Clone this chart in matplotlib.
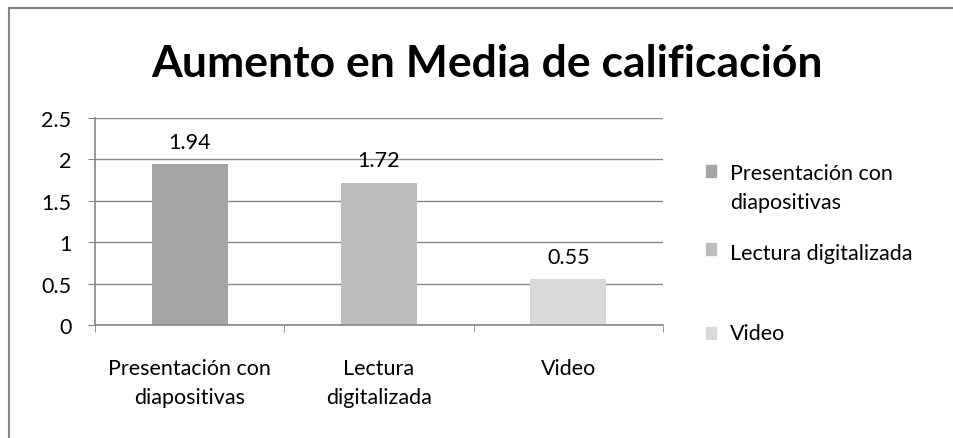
import matplotlib.pyplot as plt
from matplotlib.patches import Rectangle
import numpy as np

plt.rcParams['font.family'] = ['Lato', 'DejaVu Sans']

categories = ['Presentación con\ndiapositivas', 'Lectura\ndigitalizada', 'Video']
legend_labels = ['Presentación con\ndiapositivas', 'Lectura digitalizada', 'Video']
values = [1.94, 1.72, 0.55]
colors = ['#a5a5a5', '#bdbdbd', '#d9d9d9']
grid_color = '#868686'
fs = 15.5

fig = plt.figure(figsize=(9.54, 4.39), dpi=100)
ax = fig.add_axes([0.0996, 0.2574, 0.5954, 0.4715])

x = np.arange(len(values))
ax.bar(x, values, width=0.4, color=colors, zorder=3)
for xi, v in zip(x, values):
    ax.annotate(f'{v:.2f}', (xi, v), xytext=(0, 16), textcoords='offset points',
                ha='center', va='center', fontsize=fs)

ax.set_xlim(-0.5, 2.5)
ax.set_ylim(0, 2.5)
ax.set_yticks([0, 0.5, 1, 1.5, 2, 2.5])
ax.set_yticklabels(['0', '0.5', '1', '1.5', '2', '2.5'], fontsize=fs)
ax.set_xticks(x)
ax.set_xticklabels(categories, fontsize=fs, linespacing=1.6)
ax.set_xticks([-0.5, 0.5, 1.5, 2.5], minor=True)
ax.tick_params(axis='x', which='major', length=0, pad=23.5)
ax.tick_params(axis='x', which='minor', length=5, color=grid_color, direction='out')
ax.tick_params(axis='y', length=5, color=grid_color, pad=12)
ax.grid(axis='y', color=grid_color, linewidth=1, zorder=0)
for s in ['top', 'right']:
    ax.spines[s].set_visible(False)
for s in ['left', 'bottom']:
    ax.spines[s].set_color(grid_color)
    ax.spines[s].set_linewidth(1.2)
    ax.spines[s].set_zorder(4)

fig.text(0.511, 0.855, 'Aumento en Media de calificación', ha='center', va='center',
         fontsize=32, fontweight='bold')

# legend
leg_y = [0.608, 0.43, 0.239]
text_y = [0.571, 0.422, 0.239]
for c, lab, py, ty in zip(colors, legend_labels, leg_y, text_y):
    fig.patches.append(Rectangle((0.740, py - 0.014), 0.0105, 0.028,
                                 transform=fig.transFigure, color=c))
    fig.text(0.765, ty, lab, ha='left', va='center', fontsize=fs, linespacing=1.6)

# chart border
fig.patches.append(Rectangle((9 / 954, -0.1), 1.2, 1 - 9 / 439 + 0.1,
                             transform=fig.transFigure, fill=False,
                             edgecolor=grid_color, linewidth=1.5))

fig.savefig('out.png', dpi=100)
